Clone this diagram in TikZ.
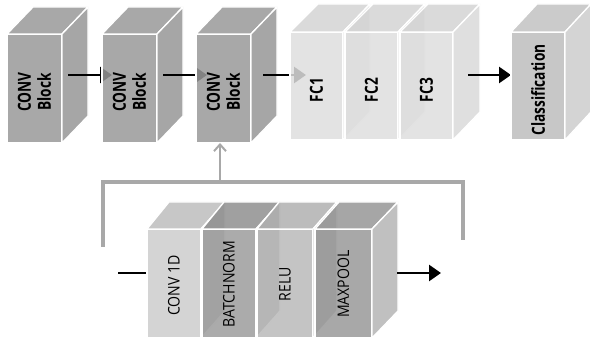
\documentclass[tikz,border=0pt]{standalone}
\usepackage{fontspec}
\setmainfont{Open Sans}
\usetikzlibrary{arrows.meta,calc}
\definecolor{cbF}{gray}{0.60}
\definecolor{cbT}{gray}{0.60}
\definecolor{cbS}{gray}{0.59}
\definecolor{fcF}{gray}{0.87}
\definecolor{fcT}{gray}{0.83}
\definecolor{fcS}{gray}{0.85}
\definecolor{clF}{gray}{0.78}
\definecolor{clT}{gray}{0.76}
\definecolor{clS}{gray}{0.80}
\definecolor{cvF}{gray}{0.80}
\definecolor{cvT}{gray}{0.74}
\definecolor{bnF}{gray}{0.61}
\definecolor{bnT}{gray}{0.56}
\definecolor{rlF}{gray}{0.73}
\definecolor{rlT}{gray}{0.69}
\definecolor{mpF}{gray}{0.60}
\definecolor{mpT}{gray}{0.59}
\definecolor{mpS}{gray}{0.71}
\definecolor{brk}{gray}{0.66}
\newcommand\blockfaces[6]{%
  \filldraw[face, fill=#5] (#1.north west) -- ++(#2,-#4) -- ($(#1.north east)+(#3,-#4)$) -- (#1.north east) -- cycle;
  \filldraw[face, fill=#6] (#1.north east) -- ++(#3,-#4) -- ($(#1.south east)+(#3,-#4)$) -- (#1.south east) -- cycle;
}
\newcommand\twolines[2]{\vbox{\halign{\hfil##\hfil\cr#1\cr#2\cr}}}
% rotated label, lowered by #1 while keeping its box
\newcommand\vtext[2]{\raisebox{-#1}[\height][\depth]{\rotatebox{90}{\scalebox{0.76}[1]{#2}}}}
\newcommand\vtextr[2]{\raisebox{-#1}[\height][\depth]{\rotatebox{90}{\scalebox{0.88}[1]{#2}}}}
\tikzset{
  blk/.style n args={2}{draw=white, line width=1pt, inner sep=0pt, outer sep=0pt,
    minimum width=#1*0.75pt, minimum height=#2*0.75pt,
    fill opacity=0.85, text opacity=1},
  boldtext/.style={font=\fontsize{13.5}{15}\selectfont\bfseries},
  regtext/.style={font=\fontsize{12}{14}\selectfont},
  face/.style={draw=white, line width=1pt, fill opacity=0.85, line join=round},
  flow/.style={line width=2pt, black, -{Triangle[length=9pt,width=12pt]}},
  plain/.style={line width=2pt, black},
  bracket/.style={line width=2.4pt, brk},
  uparrow/.style={line width=1.5pt, brk, -{Straight Barb[length=5pt,width=9pt,line width=1.5pt]}}
}
\begin{document}
\begin{tikzpicture}[x=0.75pt, y=-0.75pt]
\useasboundingbox (0,0) rectangle (590,342);
% coordinates for connector ends
\coordinate (a1s) at (68,75);
\coordinate (a1e) at (112,75);
\coordinate (a2s) at (163,75);
\coordinate (a2e) at (207,75);
\coordinate (a3s) at (263,75);
\coordinate (a3e) at (306,75);
\coordinate (a4s) at (468,75);
\coordinate (a4e) at (511,75);
\coordinate (bl) at (103,247);
\coordinate (blt) at (103,182);
\coordinate (bm) at (220,182);
\coordinate (brt) at (463,182);
\coordinate (br) at (463,240);
\coordinate (ins) at (118,273);
\coordinate (outs) at (397,273);
\coordinate (oute) at (441,273);

% CONV blocks
\node[blk={55}{109}, boldtext, fill=cbF] (b1) at (34.5,88.5) {\vtext{2.5pt}{\twolines{CONV}{Block}}};
\blockfaces{b1}{26}{26}{27}{cbT}{cbS}
\draw[flow] (a1s) -- (a1e);
\node[blk={55}{109}, boldtext, fill=cbF] (b2) at (129.5,88.5) {\vtext{2.5pt}{\twolines{CONV}{Block}}};
\blockfaces{b2}{26}{26}{27}{cbT}{cbS}
\draw[flow] (a2s) -- (a2e);
\node[blk={55}{109}, boldtext, fill=cbF] (b3) at (223.5,88.5) {\vtext{2.5pt}{\twolines{CONV}{Block}}};
\blockfaces{b3}{26}{26}{27}{cbT}{cbS}
\draw[flow] (a3s) -- (a3e);

% FC blocks
\node[blk={53}{108}, boldtext, fill=fcF] (f1) at (316.5,86) {\vtext{3pt}{FC1}};
\blockfaces{f1}{28}{27}{28}{fcT}{fcS}
\node[blk={53}{108}, boldtext, fill=fcF] (f2) at (371.5,86) {\vtext{3pt}{FC2}};
\blockfaces{f2}{28}{27}{28}{fcT}{fcS}
\node[blk={53}{108}, boldtext, fill=fcF] (f3) at (426.5,86) {\vtext{3pt}{FC3}};
\blockfaces{f3}{28}{27}{28}{fcT}{fcS}
\draw[flow] (a4s) -- (a4e);

% Classification
\node[blk={54}{108}, boldtext, fill=clF, fill opacity=1] (cl) at (538,86) {\vtext{3pt}{Classification}};
\blockfaces{cl}{26}{26}{28}{clT}{clS}

% bracket and arrow to block 3
\draw[bracket, line join=miter] (bl) -- (blt) -- (brt) -- (br);
\draw[uparrow] (bm) -- (bm |- b3.south);

% bottom detail
\draw[plain] (ins) -- (ins -| 147,0);
\node[blk={54}{109}, regtext, fill=cvF] (c1) at (174,283.5) {\vtextr{1.5pt}{CONV 1D}};
\blockfaces{c1}{22}{24}{27}{cvT}{cvT}
\node[blk={54}{109}, regtext, fill=bnF] (c2) at (229,283.5) {\vtextr{0.5pt}{BATCHNORM}};
\blockfaces{c2}{22}{24}{27}{bnT}{bnT}
\node[blk={56}{109}, regtext, fill=rlF] (c3) at (285,283.5) {\vtextr{0.5pt}{RELU}};
\blockfaces{c3}{22}{24}{27}{rlT}{rlT}
\node[blk={57}{109}, regtext, fill=mpF] (c4) at (343.5,283.5) {\vtextr{0.5pt}{MAXPOOL}};
\blockfaces{c4}{24}{26}{27}{mpT}{mpS}
\draw[flow] (outs) -- (oute);
\end{tikzpicture}
\end{document}
